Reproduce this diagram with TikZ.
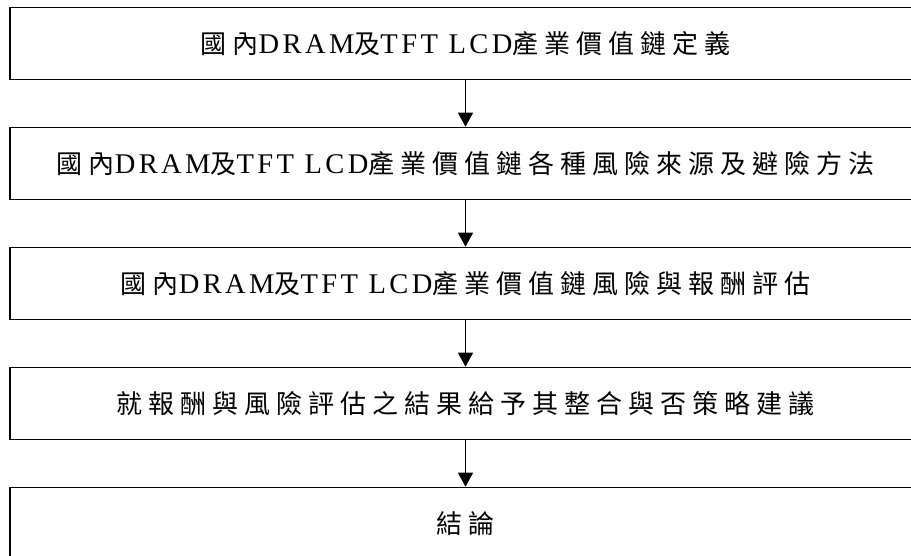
\documentclass[tikz,border=0pt]{standalone}
\usepackage{fontspec}
\setmainfont{Liberation Serif}[LetterSpace=12]
\newfontfamily\cjk{Noto Sans CJK TC}[LetterSpace=23]
\newcommand\zh[1]{{\cjk\fontsize{26}{30}\selectfont #1}}
\usetikzlibrary{arrows.meta}

\tikzset{
  stagebox/.style={draw, rectangle, line width=1.6pt, inner sep=0pt,
    minimum width=911pt, minimum height=72pt,
    font=\fontsize{28.5}{32}\selectfont},
  flow/.style={line width=1.3pt, -{Triangle[length=14pt, width=15pt]}}
}

\begin{document}
\begin{tikzpicture}[x=1pt, y=-1pt]
  \useasboundingbox (0,0) rectangle (911,555);
  \clip (0,0) rectangle (911,555);

  % process stages, top to bottom
  \node[stagebox] (s1) at (465.5, 43.5)
    {\zh{國內}DRAM\zh{及}TFT LCD\zh{產業價值鏈定義}};
  \node[stagebox] (s2) at (465.5, 163.5)
    {\zh{國內}DRAM\zh{及}TFT LCD\zh{產業價值鏈各種風險來源及避險方法}};
  \node[stagebox] (s3) at (465.5, 283.5)
    {\zh{國內}DRAM\zh{及}TFT LCD\zh{產業價值鏈風險與報酬評估}};
  \node[stagebox] (s4) at (465.5, 403.5)
    {\zh{就報酬與風險評估之結果給予其整合與否策略建議}};
  \node[stagebox] (s5) at (465.5, 523.5)
    {\zh{結論}};

  % connectors
  \draw[flow] (s1.south) -- (s2.north);
  \draw[flow] (s2.south) -- (s3.north);
  \draw[flow] (s3.south) -- (s4.north);
  \draw[flow] (s4.south) -- (s5.north);
\end{tikzpicture}
\end{document}
